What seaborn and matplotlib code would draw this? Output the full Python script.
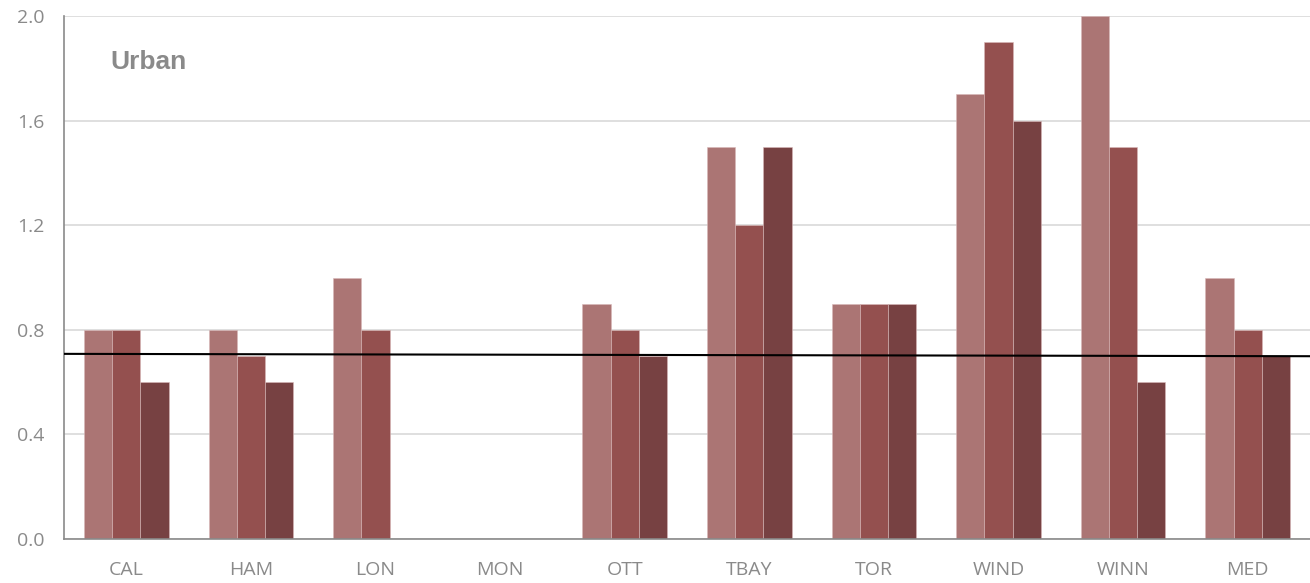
import numpy as np
import pandas as pd
import matplotlib
matplotlib.use("Agg")
import matplotlib.pyplot as plt
import seaborn as sns

# Station codes along the x axis
cities = ["CAL", "HAM", "LON", "MON", "OTT", "TBAY", "TOR", "WIND", "WINN", "MED"]
# Three periods per station (NaN = no value reported)
series_names = ["Period 1", "Period 2", "Period 3"]
period_1 = [0.8, 0.8, 1.0, np.nan, 0.9, 1.5, 0.9, 1.7, 2.0, 1.0]
period_2 = [0.8, 0.7, 0.8, np.nan, 0.8, 1.2, 0.9, 1.9, 1.5, 0.8]
period_3 = [0.6, 0.6, np.nan, np.nan, 0.7, 1.5, 0.9, 1.6, 0.6, 0.7]
# Reference line, value at left and right ends of the axis
reference_line = [0.708, 0.699]
y_ticks = [0.0, 0.4, 0.8, 1.2, 1.6, 2.0]
panel_title = "Urban"

colors = ["#AB7574", "#94504F", "#774142"]
gray = "#8A8A8A"

sns.set_theme(style="white")
plt.rcParams["font.family"] = ["Open Sans", "DejaVu Sans"]

df = pd.DataFrame({
    "city": cities * 3,
    "series": sum([[s] * len(cities) for s in series_names], []),
    "value": period_1 + period_2 + period_3,
})

fig = plt.figure(figsize=(13.10, 5.83), dpi=100)
ax = fig.add_axes([64 / 1310, 44 / 583, 1 - 64 / 1310, (539 - 16) / 583])

sns.barplot(data=df, x="city", y="value", hue="series", order=cities,
            hue_order=series_names, palette=colors, width=0.68, ax=ax,
            edgecolor="#D8B8B8", linewidth=0.4, errorbar=None, legend=False,
            saturation=1)

ax.set_xlim(-0.5, len(cities) - 0.5)
ax.set_ylim(0, 2.0)
ax.set_yticks(y_ticks)
ax.set_yticklabels([f"{t:.1f}" for t in y_ticks], color=gray, fontsize=14)
ax.yaxis.grid(True, color="#D9D9D9", linewidth=1.2)
ax.set_axisbelow(True)

# Category labels centered, tick marks on category boundaries
ax.set_xticks(range(len(cities)))
ax.set_xticklabels(cities, color=gray, fontsize=14)
ax.tick_params(axis="x", length=0, pad=16)
ax.set_xticks(np.arange(-0.5, len(cities), 1.0), minor=True)
ax.tick_params(axis="x", which="minor", length=6, width=1.2, color=gray, direction="out")
ax.tick_params(axis="y", length=6, width=1.2, color=gray, direction="out", pad=8)

ax.set_xlabel("")
ax.set_ylabel("")
for side in ["top", "right"]:
    ax.spines[side].set_visible(False)
for side in ["left", "bottom"]:
    ax.spines[side].set_color(gray)
    ax.spines[side].set_linewidth(1.2)

ax.plot([-0.5, len(cities) - 0.5], reference_line, color="black", linewidth=1.5,
        solid_capstyle="butt", zorder=5, clip_on=False)

ax.text(0.037, 0.913, panel_title, transform=ax.transAxes, fontsize=19,
        fontweight="bold", color=gray, ha="left", va="center",
        family=["Liberation Sans", "DejaVu Sans"])

fig.savefig("out.png", dpi=100)
